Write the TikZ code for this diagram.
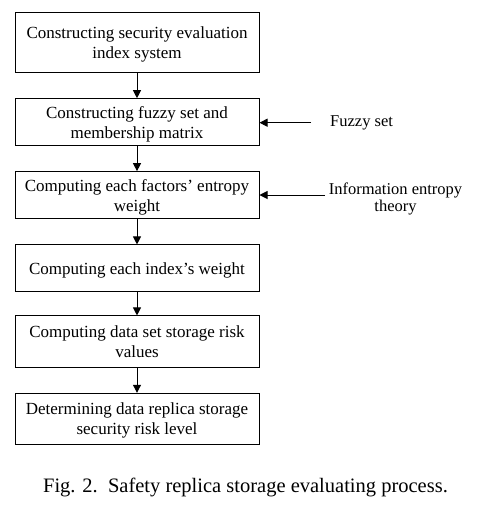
\documentclass[tikz,border=0pt]{standalone}
\usepackage{fontspec}
\setmainfont{Liberation Serif}
\usepackage{tikz}
\usetikzlibrary{arrows.meta}

\tikzset{
    procbox/.style={draw, line width=1pt, minimum width=244pt, align=center,
                    font=\fontsize{17}{20}\selectfont, inner sep=0pt, text depth=0pt},
    sidetext/.style={align=center, font=\fontsize{16.5}{17.5}\selectfont, inner sep=0pt},
    flow/.style={line width=1pt, -{Triangle[length=8pt,width=8pt]}}
}

\begin{document}
\begin{tikzpicture}[x=1pt, y=-1pt]
                    \useasboundingbox (0,0) rectangle (479,509);
                    % Draw process boxes
                    \node[procbox, minimum height=60pt] (index) at (137,42.7)
                        {Constructing security evaluation\\index system};
                    \node[procbox, minimum height=47pt] (fuzzy) at (137,122.2)
                        {Constructing fuzzy set and\\membership matrix};
                    \node[procbox, minimum height=47.3pt] (entropy) at (137,195.3)
                        {Computing each factors' entropy\\weight};
                    \node[procbox, minimum height=46.7pt] (weight) at (137,268.3)
                        {Computing each index's weight};
                    \node[procbox, minimum height=51.7pt] (risk) at (137,341.8)
                        {Computing data set storage risk\\values};
                    \node[procbox, minimum height=51pt] (level) at (137,418.8)
                        {Determining data replica storage\\security risk level};
                    
                    % Side inputs
                    \node[sidetext, anchor=west] (fuzzytxt) at (330,123) {Fuzzy set};
                    \node[sidetext] (infotxt) at (395.5,199) {Information entropy\\theory};
                    \coordinate (fuzzyin) at (311,122.7);
                    \coordinate (infoin) at (325,195);
                    
                    % Flow arrows
                    \draw[flow] (index) -- (fuzzy);
                    \draw[flow] (fuzzy) -- (entropy);
                    \draw[flow] (entropy) -- (weight);
                    \draw[flow] (weight) -- (risk);
                    \draw[flow] (risk) -- (level);
                    \draw[flow] (fuzzyin) -- (fuzzyin -| fuzzy.east);
                    \draw[flow] (infoin) -- (infoin -| entropy.east);
                    
                    % Caption
                    \node[font=\fontsize{20.5}{24}\selectfont] (caption) at (245.5,487)
                        {Fig. 2.\ \ Safety replica storage evaluating process.};
\end{tikzpicture}
\end{document}
